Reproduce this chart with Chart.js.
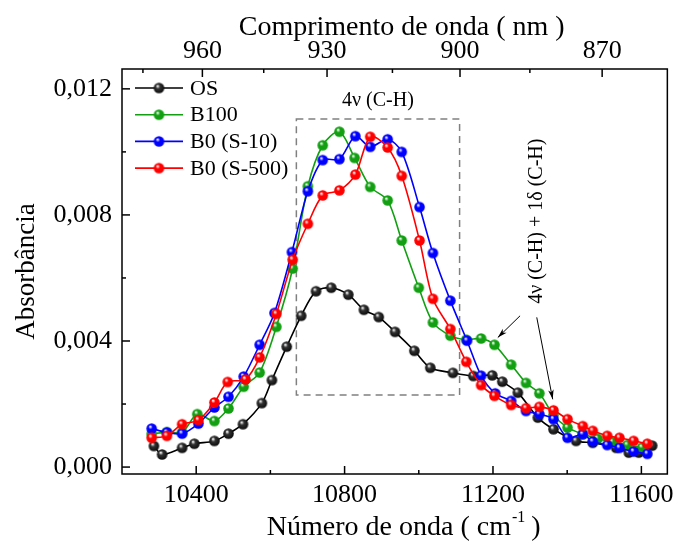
<!DOCTYPE html>
<html>
<head>
<meta charset="utf-8">
<script src="https://cdn.jsdelivr.net/npm/chart.js@4.4.0/dist/chart.umd.min.js"></script>
<style>
  body { margin: 0; background: #fff; }
</style>
</head>
<body>
<canvas id="chart" width="680" height="545"></canvas>
<script>
// data (x in cm-1, y in absorbance)
var seriesNames = ["OS", "B100", "B0 (S-10)", "B0 (S-500)"];
var seriesColors = ["#000000", "#12a012", "#0000ff", "#ff0000"];

var osX = [10286, 10308, 10362, 10395, 10449, 10487, 10526, 10577, 10604, 10644, 10683, 10723, 10764, 10810, 10852, 10892, 10936, 10988, 11031, 11092, 11147, 11198, 11225, 11267, 11321, 11363, 11424, 11469, 11532, 11566, 11593, 11629];
var osY = [0.00067, 0.00040, 0.00061, 0.00074, 0.00083, 0.00106, 0.00136, 0.00203, 0.00276, 0.00382, 0.00480, 0.00558, 0.00569, 0.00547, 0.00499, 0.00476, 0.00429, 0.00369, 0.00315, 0.00299, 0.00289, 0.00291, 0.00271, 0.00236, 0.00157, 0.00120, 0.00083, 0.00077, 0.00061, 0.00046, 0.00046, 0.00068];

var b100X = [10280, 10321, 10362, 10403, 10449, 10487, 10528, 10571, 10616, 10660, 10701, 10741, 10786, 10827, 10869, 10916, 10954, 11000, 11038, 11085, 11128, 11168, 11204, 11249, 11289, 11325, 11363, 11401, 11442, 11482, 11522, 11562, 11602];
var b100Y = [0.00105, 0.00111, 0.00110, 0.00168, 0.00146, 0.00186, 0.00255, 0.00300, 0.00445, 0.00630, 0.00891, 0.01021, 0.01064, 0.00981, 0.00889, 0.00846, 0.00719, 0.00569, 0.00459, 0.00417, 0.00404, 0.00408, 0.00388, 0.00325, 0.00267, 0.00234, 0.00165, 0.00125, 0.00105, 0.00090, 0.00080, 0.00070, 0.00062];

var s10X = [10280, 10321, 10362, 10406, 10449, 10487, 10528, 10571, 10611, 10658, 10701, 10741, 10786, 10829, 10869, 10916, 10954, 11002, 11038, 11085, 11130, 11168, 11206, 11249, 11289, 11325, 11363, 11401, 11442, 11469, 11508, 11541, 11579, 11616];
var s10Y = [0.00122, 0.00110, 0.00106, 0.00138, 0.00189, 0.00223, 0.00287, 0.00388, 0.00489, 0.00682, 0.00875, 0.00974, 0.00977, 0.01050, 0.01016, 0.01040, 0.01000, 0.00825, 0.00679, 0.00528, 0.00401, 0.00290, 0.00234, 0.00210, 0.00178, 0.00168, 0.00152, 0.00093, 0.00104, 0.00081, 0.00070, 0.00061, 0.00049, 0.00042];

var s500X = [10280, 10321, 10362, 10406, 10449, 10485, 10533, 10571, 10616, 10660, 10701, 10741, 10786, 10829, 10869, 10916, 10954, 11002, 11038, 11085, 11128, 11168, 11204, 11249, 11289, 11325, 11363, 11401, 11442, 11469, 11508, 11541, 11579, 11616];
var s500Y = [0.00093, 0.00099, 0.00136, 0.00149, 0.00205, 0.00270, 0.00278, 0.00348, 0.00486, 0.00658, 0.00772, 0.00862, 0.00878, 0.00928, 0.01048, 0.01014, 0.00924, 0.00719, 0.00534, 0.00438, 0.00334, 0.00260, 0.00226, 0.00197, 0.00187, 0.00191, 0.00180, 0.00152, 0.00130, 0.00115, 0.00099, 0.00093, 0.00083, 0.00074];

// axes
var xMin = 10200, xMax = 11670;
var yMin = -0.00022, yMax = 0.01263;
var xTicks = [10400, 10800, 11200, 11600];
var xMinor = [10600, 11000, 11400];
var nmTicks = [960, 930, 900, 870];
var nmMinor = [975, 945, 915, 885];
var yTicks = [0, 0.004, 0.008, 0.012];
var yMinor = [0.002, 0.006, 0.010];

// annotations (data coordinates)
var boxX = [10670, 11110];
var boxY = [0.00229, 0.01104];
var boxLabel = "4ν (C-H)";
var sideLabel = "4ν (C-H) + 1δ (C-H)";
var arrows = [
  [[11273, 0.0048], [11213, 0.00411]],
  [[11318, 0.00475], [11361, 0.00215]]
];

var serif = "'Liberation Serif', 'Times New Roman', serif";

var ball = function(color) {
  var c = document.createElement("canvas");
  c.width = 13;
  c.height = 13;
  var g = c.getContext("2d");
  var grd = g.createRadialGradient(5, 4.5, 0.3, 6.5, 6.5, 6.5);
  grd.addColorStop(0, "#ffffff");
  grd.addColorStop(0.3, color === "#000000" ? "#333333" : color);
  grd.addColorStop(1, color === "#000000" ? "#000000" : color);
  g.fillStyle = grd;
  g.beginPath();
  g.arc(6.5, 6.5, 5.3, 0, 2 * Math.PI);
  g.fill();
  return c;
};

var toPoints = function(xs, ys) {
  return xs.map((x, i) => ({ x: x, y: ys[i] }));
};

var makeSet = function(i, xs, ys, order) {
  return {
    label: seriesNames[i],
    data: toPoints(xs, ys),
    showLine: true,
    borderColor: seriesColors[i],
    backgroundColor: seriesColors[i],
    borderWidth: 1.6,
    tension: 0.3,
    pointStyle: ball(seriesColors[i]),
    pointRadius: 6,
    order: order
  };
};

var decorations = {
  id: "decorations",
  beforeDatasetsDraw: function(chart) {
    var ctx = chart.ctx, sx = chart.scales.x, sy = chart.scales.y;
    ctx.save();
    ctx.strokeStyle = "#808080";
    ctx.lineWidth = 1.5;
    ctx.setLineDash([7, 5]);
    var x1 = sx.getPixelForValue(boxX[0]), x2 = sx.getPixelForValue(boxX[1]);
    var y1 = sy.getPixelForValue(boxY[1]), y2 = sy.getPixelForValue(boxY[0]);
    ctx.strokeRect(x1, y1, x2 - x1, y2 - y1);
    ctx.restore();
  },
  afterDraw: function(chart) {
    var ctx = chart.ctx, a = chart.chartArea, sx = chart.scales.x, sy = chart.scales.y;
    ctx.save();
    ctx.strokeStyle = "#000";
    ctx.lineWidth = 1.5;
    ctx.strokeRect(a.left, a.top, a.right - a.left, a.bottom - a.top);
    var line = function(x1, y1, x2, y2) {
      ctx.beginPath();
      ctx.moveTo(x1, y1);
      ctx.lineTo(x2, y2);
      ctx.stroke();
    };
    xTicks.forEach(v => { var p = sx.getPixelForValue(v); line(p, a.bottom, p, a.bottom - 8); });
    xMinor.forEach(v => { var p = sx.getPixelForValue(v); line(p, a.bottom, p, a.bottom - 4); });
    nmTicks.forEach(n => { var p = sx.getPixelForValue(1e7 / n); line(p, a.top, p, a.top + 8); });
    nmMinor.forEach(n => { var p = sx.getPixelForValue(1e7 / n); line(p, a.top, p, a.top + 4); });
    yTicks.forEach(v => { var p = sy.getPixelForValue(v); line(a.left, p, a.left + 8, p); });
    yMinor.forEach(v => { var p = sy.getPixelForValue(v); line(a.left, p, a.left + 4, p); });

    // axis titles
    ctx.fillStyle = "#000";
    ctx.font = "28px " + serif;
    ctx.textAlign = "center";
    ctx.textBaseline = "middle";
    var cx = (a.left + a.right) / 2;
    ctx.fillText("Comprimento de onda ( nm )", cx + 7, 28);
    var t1 = "Número de onda ( cm", t2 = "-1", t3 = " )";
    var w1 = ctx.measureText(t1).width, w3 = ctx.measureText(t3).width;
    ctx.font = "16px " + serif;
    var w2 = ctx.measureText(t2).width;
    var start = cx + 9 - (w1 + w2 + w3) / 2;
    ctx.textAlign = "left";
    ctx.font = "28px " + serif;
    ctx.fillText(t1, start, 528);
    ctx.fillText(t3, start + w1 + w2, 528);
    ctx.font = "16px " + serif;
    ctx.fillText(t2, start + w1 + 1, 518);
    ctx.save();
    ctx.translate(27, (a.top + a.bottom) / 2);
    ctx.rotate(-Math.PI / 2);
    ctx.textAlign = "center";
    ctx.font = "27px " + serif;
    ctx.fillText("Absorbância", 0, 0);
    ctx.restore();

    // legend
    ctx.font = "22px " + serif;
    ctx.textAlign = "left";
    seriesNames.forEach((name, i) => {
      var y = 88 + i * 26.7;
      ctx.strokeStyle = seriesColors[i];
      ctx.lineWidth = 1.6;
      line(a.left + 13, y, a.left + 61, y);
      var img = ball(seriesColors[i]);
      ctx.drawImage(img, a.left + 37 - 6.5, y - 6.5);
      ctx.fillStyle = "#000";
      ctx.fillText(name, a.left + 68, y + 1);
    });

    // annotations
    ctx.font = "20px " + serif;
    ctx.textAlign = "center";
    ctx.fillText(boxLabel, sx.getPixelForValue((boxX[0] + boxX[1]) / 2), sy.getPixelForValue(0.01161));
    ctx.save();
    ctx.translate(sx.getPixelForValue(11317), sy.getPixelForValue(0.0078));
    ctx.rotate(-Math.PI / 2);
    ctx.fillText(sideLabel, 0, 0);
    ctx.restore();

    ctx.strokeStyle = "#000";
    ctx.lineWidth = 1;
    arrows.forEach(ar => {
      var xa = sx.getPixelForValue(ar[0][0]), ya = sy.getPixelForValue(ar[0][1]);
      var xb = sx.getPixelForValue(ar[1][0]), yb = sy.getPixelForValue(ar[1][1]);
      line(xa, ya, xb, yb);
      var ang = Math.atan2(yb - ya, xb - xa);
      ctx.fillStyle = "#000";
      ctx.beginPath();
      ctx.moveTo(xb, yb);
      ctx.lineTo(xb - 10 * Math.cos(ang - 0.28), yb - 10 * Math.sin(ang - 0.28));
      ctx.lineTo(xb - 7 * Math.cos(ang), yb - 7 * Math.sin(ang));
      ctx.lineTo(xb - 10 * Math.cos(ang + 0.28), yb - 10 * Math.sin(ang + 0.28));
      ctx.closePath();
      ctx.fill();
    });
    ctx.restore();
  }
};

var ctx = document.getElementById("chart").getContext("2d");
var myChart = new Chart(ctx, {
  type: "scatter",
  data: {
    datasets: [
      makeSet(0, osX, osY, 3),
      makeSet(1, b100X, b100Y, 2),
      makeSet(2, s10X, s10Y, 1),
      makeSet(3, s500X, s500Y, 0)
    ]
  },
  options: {
    responsive: false,
    animation: false,
    devicePixelRatio: 1,
    layout: { padding: { left: 0, right: 12, top: 0, bottom: 0 } },
    plugins: { legend: { display: false }, tooltip: { enabled: false } },
    scales: {
      x: {
        type: "linear",
        position: "bottom",
        min: xMin,
        max: xMax,
        afterBuildTicks: function(scale) { scale.ticks = xTicks.map(v => ({ value: v })); },
        afterFit: function(scale) { scale.height = 71; },
        ticks: {
          font: { family: serif, size: 26 }, color: "#000", padding: 6, maxRotation: 0,
          callback: function(v) { return String(v); }
        },
        grid: { display: true, drawOnChartArea: false, drawTicks: false, color: "rgba(0,0,0,0)" },
        border: { display: false }
      },
      x2: {
        type: "linear",
        position: "top",
        min: xMin,
        max: xMax,
        afterBuildTicks: function(scale) { scale.ticks = nmTicks.map(n => ({ value: 1e7 / n })); },
        afterFit: function(scale) { scale.height = 69; },
        ticks: {
          font: { family: serif, size: 26 }, color: "#000", padding: 2, maxRotation: 0,
          callback: function(v) { return String(Math.round(1e7 / v)); }
        },
        grid: { display: true, drawOnChartArea: false, drawTicks: false, color: "rgba(0,0,0,0)" },
        border: { display: false }
      },
      y: {
        type: "linear",
        min: yMin,
        max: yMax,
        afterBuildTicks: function(scale) { scale.ticks = yTicks.map(v => ({ value: v })); },
        afterFit: function(scale) { scale.width = 122; },
        ticks: {
          font: { family: serif, size: 26 }, color: "#000", padding: 10,
          callback: function(v) { return v.toFixed(3).replace(".", ","); }
        },
        grid: { display: true, drawOnChartArea: false, drawTicks: false, color: "rgba(0,0,0,0)" },
        border: { display: false }
      }
    }
  },
  plugins: [decorations]
});
</script>
</body>
</html>
